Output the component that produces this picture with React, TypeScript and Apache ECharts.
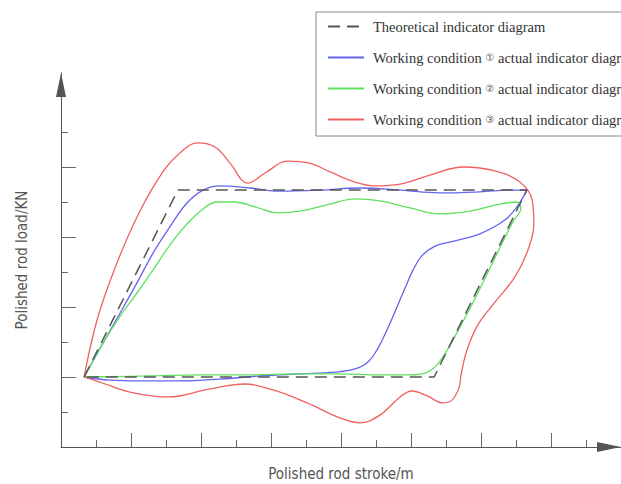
import React, { useEffect, useRef } from 'react';
import * as echarts from 'echarts';

// Axis units: one tick step = 1 unit (no numeric labels shown in the source figure)
const xAxisName = 'Polished rod stroke/m';
const yAxisName = 'Polished rod load/KN';
const xMajorTicks = [2, 4, 6, 8, 10, 12, 14];
const yMajorTicks = [2, 4, 6, 8];

const seriesNames = [
  'Theoretical indicator diagram',
  'Working condition \u2460 actual indicator diagram',
  'Working condition \u2461 actual indicator diagram',
  'Working condition \u2462 actual indicator diagram',
];

const theoretical: [number, number][] = [
  [0.66, 2.0], [3.34, 7.34], [13.31, 7.34], [10.66, 2.0], [0.66, 2.0],
];

const condition1: [number, number][] = [
  [0.66, 2.0], [1.2, 2.97], [1.69, 3.83], [2.17, 4.69], [2.63, 5.54], [3.11, 6.29],
  [3.6, 6.97], [4.06, 7.34], [4.54, 7.46], [5.4, 7.4], [6.26, 7.31], [7.4, 7.34],
  [8.54, 7.4], [9.69, 7.34], [10.83, 7.26], [11.97, 7.29], [12.83, 7.34], [13.31, 7.34],
  [13.06, 6.91], [12.69, 6.49], [11.97, 6.09], [11.26, 5.89], [10.69, 5.74], [10.31, 5.46],
  [10.06, 5.06], [9.83, 4.54], [9.6, 4.0], [9.34, 3.4], [9.06, 2.83], [8.77, 2.43],
  [8.4, 2.23], [7.83, 2.14], [6.83, 2.09], [5.69, 2.03], [4.54, 1.94], [3.4, 1.89],
  [2.26, 1.89], [1.4, 1.91], [0.66, 2.0],
];

const condition2: [number, number][] = [
  [0.66, 2.0], [1.2, 2.97], [1.69, 3.74], [2.17, 4.4], [2.63, 5.06], [3.11, 5.77],
  [3.6, 6.37], [4.06, 6.8], [4.46, 7.0], [4.97, 7.0], [5.54, 6.86], [6.2, 6.69],
  [6.83, 6.74], [7.69, 6.94], [8.4, 7.09], [9.11, 7.03], [9.97, 6.83], [10.83, 6.66],
  [11.69, 6.74], [12.54, 6.94], [13.03, 7.0], [13.14, 6.83], [12.91, 6.43], [12.51, 5.63],
  [12.09, 4.77], [11.69, 3.97], [11.31, 3.26], [11.0, 2.71], [10.71, 2.31], [10.4, 2.11],
  [9.97, 2.06], [9.11, 2.06], [7.97, 2.09], [6.83, 2.09], [5.4, 2.06], [3.97, 2.06],
  [2.54, 2.03], [1.4, 2.01], [0.66, 2.0],
];

const condition3: [number, number][] = [
  [0.66, 2.0], [1.03, 3.63], [1.54, 5.11], [2.2, 6.63], [2.91, 7.86], [3.4, 8.4],
  [3.91, 8.69], [4.4, 8.57], [4.83, 8.11], [5.34, 7.54], [5.83, 7.83], [6.49, 8.17],
  [7.11, 8.11], [7.69, 7.86], [8.4, 7.57], [8.97, 7.46], [9.69, 7.51], [10.54, 7.77],
  [11.49, 8.0], [12.4, 7.89], [13.11, 7.57], [13.46, 7.06], [13.51, 6.37], [13.34, 5.63],
  [12.97, 4.86], [12.4, 4.14], [11.91, 3.49], [11.6, 2.77], [11.43, 2.06], [11.37, 1.69],
  [11.17, 1.34], [10.91, 1.26], [10.46, 1.46], [10.03, 1.6], [9.69, 1.43], [9.11, 0.91],
  [8.54, 0.69], [7.97, 0.83], [7.03, 1.26], [6.06, 1.63], [5.26, 1.8], [4.26, 1.66],
  [3.06, 1.43], [1.97, 1.57], [1.26, 1.8], [0.66, 2.0],
];

export default function App() {
  const ref = useRef<HTMLDivElement>(null);

  useEffect(() => {
    if (!ref.current) return;
    const chart = echarts.init(ref.current, undefined, { renderer: 'svg' });
    const axisColor = '#555';
    const nameFont = "'DejaVu Sans Condensed', 'Liberation Sans Narrow', 'DejaVu Sans', sans-serif";
    const serifFont = "'Liberation Serif', 'Times New Roman', serif";
    chart.setOption({
      animation: false,
      backgroundColor: '#ffffff',
      grid: { left: 61, right: 0, top: 73, bottom: 37, containLabel: false, outerBoundsMode: 'none' },
      legend: {
        orient: 'vertical',
        left: 316,
        top: 12,
        itemWidth: 36,
        itemHeight: 14,
        itemGap: 16,
        padding: [7, 10, 9, 11],
        borderColor: '#888',
        borderWidth: 1,
        data: seriesNames,
        itemStyle: { opacity: 0 },
        formatter: (name: string) => name.replace(/([\u2460-\u2462])/, '{c|$1}'),
        textStyle: {
          fontFamily: serifFont,
          fontSize: 14.5,
          color: '#333',
          padding: [0, 0, 0, 4],
          rich: {
            c: { fontFamily: "'DejaVu Sans', sans-serif", fontSize: 10, color: '#555' },
          },
        },
      },
      xAxis: {
        type: 'value',
        min: 0,
        max: 16,
        interval: 2,
        name: xAxisName,
        nameLocation: 'middle',
        nameGap: 19,
        nameTextStyle: { fontFamily: nameFont, fontSize: 15, color: '#555' },
        axisLine: {
          show: true,
          onZero: false,
          symbol: ['none', 'triangle'],
          symbolSize: [10, 24],
          symbolOffset: [0, -12],
          lineStyle: { color: axisColor, width: 1 },
        },
        axisTick: {
          show: true,
          inside: true,
          length: 14,
          customValues: xMajorTicks,
          lineStyle: { color: '#666', width: 1 },
        },
        minorTick: { show: true, splitNumber: 2, length: 7, lineStyle: { color: '#666', width: 1 } },
        axisLabel: { show: false },
        splitLine: { show: false },
        minorSplitLine: { show: false },
      },
      yAxis: {
        type: 'value',
        min: 0,
        max: 374 / 35,
        interval: 2,
        name: yAxisName,
        nameLocation: 'middle',
        nameGap: 32,
        nameTextStyle: { fontFamily: nameFont, fontSize: 15, color: '#555' },
        axisLine: {
          show: true,
          onZero: false,
          symbol: ['none', 'triangle'],
          symbolSize: [10, 24],
          symbolOffset: [0, -12],
          lineStyle: { color: axisColor, width: 1 },
        },
        axisTick: {
          show: true,
          inside: true,
          length: 15,
          customValues: yMajorTicks,
          lineStyle: { color: '#666', width: 1 },
        },
        minorTick: { show: true, splitNumber: 2, length: 7, lineStyle: { color: '#666', width: 1 } },
        axisLabel: { show: false },
        splitLine: { show: false },
        minorSplitLine: { show: false },
      },
      series: [
        {
          name: seriesNames[0],
          type: 'line',
          data: theoretical,
          symbol: 'none',
          smooth: false,
          lineStyle: { color: '#555', width: 1.5, type: [12, 7] },
          itemStyle: { color: '#555' },
          z: 5,
        },
        {
          name: seriesNames[1],
          type: 'line',
          data: condition1,
          symbol: 'none',
          smooth: 0.4,
          lineStyle: { color: '#6464f0', width: 1.3 },
          itemStyle: { color: '#6464f0' },
        },
        {
          name: seriesNames[2],
          type: 'line',
          data: condition2,
          symbol: 'none',
          smooth: 0.4,
          lineStyle: { color: '#5ee05e', width: 1.3 },
          itemStyle: { color: '#5ee05e' },
        },
        {
          name: seriesNames[3],
          type: 'line',
          data: condition3,
          symbol: 'none',
          smooth: 0.4,
          lineStyle: { color: '#f06060', width: 1.3 },
          itemStyle: { color: '#f06060' },
        },
      ],
    });
    return () => chart.dispose();
  }, []);

  return (
    <div
      ref={ref}
      style={{ position: 'absolute', left: 0, top: 0, width: 621, height: 484, background: '#fff' }}
    />
  );
}
